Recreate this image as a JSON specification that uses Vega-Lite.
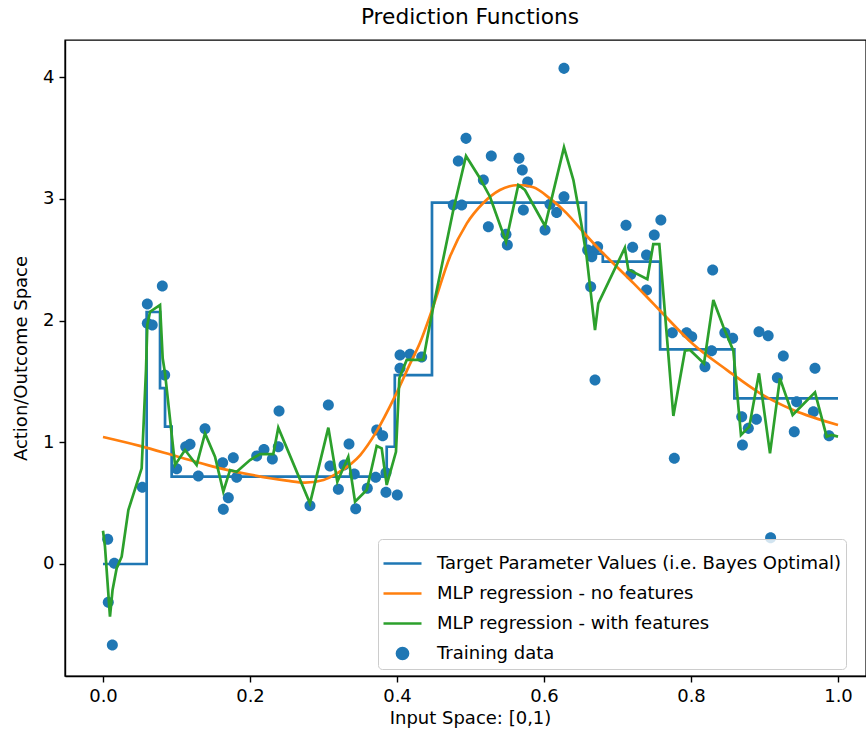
{
  "$schema": "https://vega.github.io/schema/vega-lite/v6.json",
  "autosize": {"type": "none"},
  "padding": {"left": 65, "top": 40, "right": 0, "bottom": 59},
  "width": 801,
  "height": 636,
  "title": {"text": "Prediction Functions", "fontSize": 21.7, "font": "DejaVu Sans", "fontWeight": "normal", "color": "#000000", "offset": 11, "dx": 4.5},
  "datasets": {
    "train": [
      {"x": 0.0064, "y": 0.203}, {"x": 0.0154, "y": 0.006}, {"x": 0.0072, "y": -0.315}, {"x": 0.0127, "y": -0.665},
      {"x": 0.0535, "y": 0.63}, {"x": 0.0603, "y": 2.135}, {"x": 0.0603, "y": 1.977}, {"x": 0.067, "y": 1.963},
      {"x": 0.0807, "y": 2.283}, {"x": 0.0839, "y": 1.552}, {"x": 0.1002, "y": 0.783}, {"x": 0.1125, "y": 0.963},
      {"x": 0.1184, "y": 0.983}, {"x": 0.1297, "y": 0.723}, {"x": 0.1388, "y": 1.111}, {"x": 0.1628, "y": 0.832},
      {"x": 0.1705, "y": 0.545}, {"x": 0.1637, "y": 0.449}, {"x": 0.1773, "y": 0.873}, {"x": 0.1819, "y": 0.712},
      {"x": 0.2091, "y": 0.887}, {"x": 0.219, "y": 0.94}, {"x": 0.2304, "y": 0.862}, {"x": 0.2395, "y": 1.257},
      {"x": 0.2385, "y": 0.963}, {"x": 0.2816, "y": 0.479}, {"x": 0.3066, "y": 1.306}, {"x": 0.3088, "y": 0.805},
      {"x": 0.3202, "y": 0.613}, {"x": 0.3279, "y": 0.813}, {"x": 0.3347, "y": 0.986}, {"x": 0.3419, "y": 0.739},
      {"x": 0.3438, "y": 0.454}, {"x": 0.3596, "y": 0.622}, {"x": 0.371, "y": 0.712}, {"x": 0.3724, "y": 1.1},
      {"x": 0.3805, "y": 1.054}, {"x": 0.385, "y": 0.75}, {"x": 0.385, "y": 0.589}, {"x": 0.4004, "y": 0.567},
      {"x": 0.4041, "y": 1.607}, {"x": 0.4041, "y": 1.716}, {"x": 0.4177, "y": 1.722}, {"x": 0.4336, "y": 1.7},
      {"x": 0.4834, "y": 3.31}, {"x": 0.4939, "y": 3.496}, {"x": 0.4766, "y": 2.949}, {"x": 0.488, "y": 2.949},
      {"x": 0.5175, "y": 3.154}, {"x": 0.5283, "y": 3.351}, {"x": 0.5243, "y": 2.771}, {"x": 0.5483, "y": 2.708},
      {"x": 0.5501, "y": 2.62}, {"x": 0.566, "y": 3.332}, {"x": 0.5705, "y": 3.236}, {"x": 0.5778, "y": 3.137},
      {"x": 0.5719, "y": 2.907}, {"x": 0.6014, "y": 2.743}, {"x": 0.6082, "y": 2.954}, {"x": 0.6172, "y": 2.888},
      {"x": 0.6272, "y": 3.017}, {"x": 0.6272, "y": 4.071}, {"x": 0.6594, "y": 2.579}, {"x": 0.667, "y": 2.565},
      {"x": 0.673, "y": 2.606}, {"x": 0.665, "y": 2.524}, {"x": 0.6635, "y": 2.278}, {"x": 0.6694, "y": 1.511},
      {"x": 0.7116, "y": 2.782}, {"x": 0.7206, "y": 2.601}, {"x": 0.718, "y": 2.378}, {"x": 0.7395, "y": 2.538},
      {"x": 0.7395, "y": 2.251}, {"x": 0.75, "y": 2.702}, {"x": 0.759, "y": 2.825}, {"x": 0.7746, "y": 1.9},
      {"x": 0.794, "y": 1.9}, {"x": 0.801, "y": 1.867}, {"x": 0.7773, "y": 0.868}, {"x": 0.819, "y": 1.621},
      {"x": 0.828, "y": 1.752}, {"x": 0.8295, "y": 2.415}, {"x": 0.846, "y": 1.9}, {"x": 0.8567, "y": 1.854},
      {"x": 0.8925, "y": 1.908}, {"x": 0.905, "y": 1.875}, {"x": 0.9256, "y": 1.708}, {"x": 0.9175, "y": 1.53},
      {"x": 0.869, "y": 1.21}, {"x": 0.878, "y": 1.114}, {"x": 0.889, "y": 1.188}, {"x": 0.87, "y": 0.977},
      {"x": 0.9083, "y": 0.216}, {"x": 0.9437, "y": 1.333}, {"x": 0.9405, "y": 1.087}, {"x": 0.9687, "y": 1.607},
      {"x": 0.9665, "y": 1.251}, {"x": 0.9878, "y": 1.054}
    ],
    "target": [
      {"x": 0.0, "y": 0.0}, {"x": 0.0594, "y": 2.07}, {"x": 0.0776, "y": 1.445}, {"x": 0.0844, "y": 1.128},
      {"x": 0.0934, "y": 0.717}, {"x": 0.386, "y": 0.963}, {"x": 0.397, "y": 1.552}, {"x": 0.4476, "y": 2.968},
      {"x": 0.657, "y": 2.55}, {"x": 0.68, "y": 2.483}, {"x": 0.758, "y": 1.763}, {"x": 0.859, "y": 1.361},
      {"x": 1.0, "y": 1.361}
    ],
    "nofeat": [
      {"x": 0.0, "y": 1.043}, {"x": 0.05, "y": 0.97}, {"x": 0.1, "y": 0.885}, {"x": 0.15, "y": 0.8},
      {"x": 0.2, "y": 0.735}, {"x": 0.25, "y": 0.685}, {"x": 0.275, "y": 0.668}, {"x": 0.3, "y": 0.69},
      {"x": 0.32, "y": 0.75}, {"x": 0.35, "y": 0.895}, {"x": 0.372, "y": 1.087}, {"x": 0.397, "y": 1.374},
      {"x": 0.418, "y": 1.648}, {"x": 0.431, "y": 1.813}, {"x": 0.449, "y": 2.11}, {"x": 0.472, "y": 2.524},
      {"x": 0.495, "y": 2.798}, {"x": 0.517, "y": 2.963}, {"x": 0.54, "y": 3.072}, {"x": 0.565, "y": 3.113},
      {"x": 0.5855, "y": 3.094}, {"x": 0.608, "y": 3.003}, {"x": 0.631, "y": 2.88}, {"x": 0.653, "y": 2.729},
      {"x": 0.676, "y": 2.579}, {"x": 0.699, "y": 2.442}, {"x": 0.722, "y": 2.305}, {"x": 0.744, "y": 2.168},
      {"x": 0.758, "y": 2.08}, {"x": 0.803, "y": 1.805}, {"x": 0.849, "y": 1.593}, {"x": 0.894, "y": 1.402},
      {"x": 0.939, "y": 1.265}, {"x": 1.0, "y": 1.142}
    ],
    "feat": [
      {"x": 0.0, "y": 0.273}, {"x": 0.0027, "y": 0.142}, {"x": 0.0095, "y": -0.433}, {"x": 0.013, "y": -0.213},
      {"x": 0.0186, "y": -0.035}, {"x": 0.0254, "y": 0.06}, {"x": 0.0345, "y": 0.443}, {"x": 0.0526, "y": 0.786},
      {"x": 0.0585, "y": 1.593}, {"x": 0.0603, "y": 1.963}, {"x": 0.064, "y": 2.072}, {"x": 0.0776, "y": 2.127},
      {"x": 0.0812, "y": 1.69}, {"x": 0.0844, "y": 1.566}, {"x": 0.098, "y": 0.813}, {"x": 0.1116, "y": 0.936},
      {"x": 0.1274, "y": 0.813}, {"x": 0.1388, "y": 1.073}, {"x": 0.1524, "y": 0.881}, {"x": 0.1637, "y": 0.594},
      {"x": 0.1728, "y": 0.772}, {"x": 0.1819, "y": 0.758}, {"x": 0.2, "y": 0.854}, {"x": 0.2136, "y": 0.903},
      {"x": 0.2317, "y": 0.903}, {"x": 0.2385, "y": 1.12}, {"x": 0.2816, "y": 0.498}, {"x": 0.3066, "y": 1.12},
      {"x": 0.3188, "y": 0.676}, {"x": 0.3337, "y": 0.881}, {"x": 0.3429, "y": 0.512}, {"x": 0.3588, "y": 0.608},
      {"x": 0.3724, "y": 0.969}, {"x": 0.3792, "y": 0.95}, {"x": 0.386, "y": 0.649}, {"x": 0.3986, "y": 0.922},
      {"x": 0.4032, "y": 1.525}, {"x": 0.4132, "y": 1.676}, {"x": 0.4358, "y": 1.676}, {"x": 0.441, "y": 1.85},
      {"x": 0.449, "y": 2.1}, {"x": 0.4766, "y": 2.908}, {"x": 0.4939, "y": 3.351}, {"x": 0.5129, "y": 3.168},
      {"x": 0.5265, "y": 3.017}, {"x": 0.5483, "y": 2.647}, {"x": 0.565, "y": 3.113}, {"x": 0.5741, "y": 3.072},
      {"x": 0.6014, "y": 2.776}, {"x": 0.6272, "y": 3.422}, {"x": 0.64, "y": 3.154}, {"x": 0.6506, "y": 2.798},
      {"x": 0.658, "y": 2.524}, {"x": 0.6694, "y": 1.922}, {"x": 0.6739, "y": 2.141}, {"x": 0.71, "y": 2.597},
      {"x": 0.7146, "y": 2.42}, {"x": 0.7406, "y": 2.34}, {"x": 0.7487, "y": 2.628}, {"x": 0.7569, "y": 2.628},
      {"x": 0.776, "y": 1.216}, {"x": 0.7918, "y": 1.752}, {"x": 0.7986, "y": 1.758}, {"x": 0.8177, "y": 1.648},
      {"x": 0.8304, "y": 2.168}, {"x": 0.844, "y": 1.949}, {"x": 0.8576, "y": 1.752}, {"x": 0.868, "y": 1.06},
      {"x": 0.8793, "y": 1.128}, {"x": 0.8925, "y": 1.566}, {"x": 0.9075, "y": 0.909}, {"x": 0.921, "y": 1.525},
      {"x": 0.9383, "y": 1.224}, {"x": 0.9687, "y": 1.41}, {"x": 0.9846, "y": 1.046}, {"x": 0.9914, "y": 1.06},
      {"x": 1.0, "y": 1.046}
    ]
  },
  "config": {
    "view": {"stroke": "#000000", "strokeWidth": 1.4},
    "axis": {
      "grid": false, "domainColor": "#000000", "domainWidth": 1.4, "tickColor": "#000000", "tickWidth": 1.4, "tickSize": 6,
      "labelFont": "DejaVu Sans", "labelFontSize": 18, "labelColor": "#000000", "labelPadding": 5,
      "titleFont": "DejaVu Sans", "titleFontSize": 18, "titleFontWeight": "normal", "titleColor": "#000000"
    },
    "legend": {
      "labelFont": "DejaVu Sans", "labelFontSize": 18, "labelColor": "#000000", "labelLimit": 1000,
      "symbolStrokeWidth": 2.7, "symbolOffset": 0, "padding": 4, "labelOffset": 14, "symbolSize": 1444,
      "strokeColor": "#cccccc", "fillColor": "rgba(255,255,255,0.8)", "cornerRadius": 4, "symbolOpacity": 1
    }
  },
  "encoding": {
    "x": {"field": "x", "type": "quantitative", "scale": {"domain": [-0.0517, 1.0381], "nice": false, "zero": false},
      "axis": {"values": [0, 0.2, 0.4, 0.6, 0.8, 1.0], "format": ".1f", "title": "Input Space: [0,1)", "titlePadding": 4, "titleX": 405}},
    "y": {"field": "y", "type": "quantitative", "scale": {"domain": [-0.92, 4.304], "nice": false, "zero": false},
      "axis": {"values": [0, 1, 2, 3, 4], "title": "Action/Outcome Space", "titlePadding": 12}}
  },
  "layer": [
    {
      "data": {"name": "train"},
      "mark": {"type": "point", "filled": true, "opacity": 1, "size": 1444},
      "encoding": {
        "color": {"datum": "Training data", "type": "nominal",
          "scale": {"domain": ["Target Parameter Values (i.e. Bayes Optimal)", "MLP regression - no features", "MLP regression - with features", "Training data"],
                    "range": ["#1f77b4", "#ff7f0e", "#2ca02c", "#1f77b4"]},
          "legend": {"orient": "none", "legendX": 313, "legendY": 499, "title": null, "rowPadding": 0, "symbolSize": 1444}},
        "shape": {"datum": "Training data", "type": "nominal",
          "scale": {"domain": ["Target Parameter Values (i.e. Bayes Optimal)", "MLP regression - no features", "MLP regression - with features", "Training data"],
                    "range": ["stroke", "stroke", "stroke", "M-0.29,0A0.29,0.29,0,1,1,0.29,0A0.29,0.29,0,1,1,-0.29,0Z"]},
          "legend": {"orient": "none", "legendX": 313, "legendY": 499, "title": null, "rowPadding": 0, "symbolSize": 1444}}
      }
    },
    {
      "data": {"name": "target"},
      "mark": {"type": "line", "interpolate": "step-after", "strokeWidth": 2.7},
      "encoding": {"color": {"datum": "Target Parameter Values (i.e. Bayes Optimal)", "type": "nominal"}}
    },
    {
      "data": {"name": "nofeat"},
      "mark": {"type": "line", "interpolate": "monotone", "strokeWidth": 2.7},
      "encoding": {"color": {"datum": "MLP regression - no features", "type": "nominal"}}
    },
    {
      "data": {"name": "feat"},
      "mark": {"type": "line", "strokeWidth": 2.7},
      "encoding": {"color": {"datum": "MLP regression - with features", "type": "nominal"}}
    }
  ]
}
